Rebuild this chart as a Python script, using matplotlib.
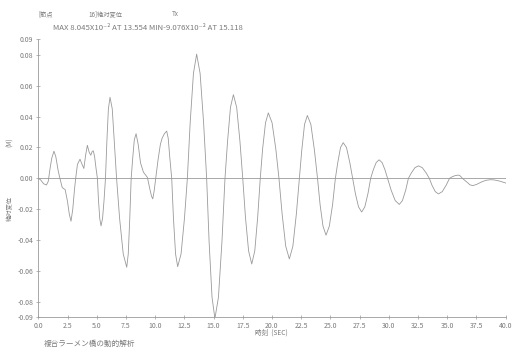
import numpy as np
import matplotlib
matplotlib.use("Agg")
from matplotlib import pyplot as plt

plt.rcParams['font.family'] = ['Noto Sans CJK JP', 'DejaVu Sans']

# time history of nodal displacement (sec, m)
time_sec = [0.0, 0.2, 0.45, 0.7, 0.85, 1.0, 1.15, 1.34, 1.5, 1.7, 1.85, 2.05, 2.3, 2.5,
            2.65, 2.8, 2.95, 3.1, 3.2, 3.35, 3.57, 3.75, 3.9, 4.05, 4.2, 4.35, 4.49,
            4.62, 4.71, 4.82, 4.95, 5.06, 5.15, 5.26, 5.37, 5.5, 5.63, 5.75, 5.87,
            6.0, 6.14, 6.33, 6.5, 6.7, 6.96, 7.27, 7.57, 7.7, 7.83, 7.95, 8.08, 8.22,
            8.37, 8.55, 8.75, 9.0, 9.2, 9.34, 9.55, 9.7, 9.8, 9.92, 10.05, 10.25,
            10.45, 10.6, 10.8, 10.99, 11.12, 11.25, 11.42, 11.57, 11.75, 11.93, 12.22,
            12.51, 12.76, 13.0, 13.28, 13.554, 13.85, 14.15, 14.41, 14.62, 14.87,
            15.118, 15.42, 15.72, 15.98, 16.2, 16.45, 16.7, 16.98, 17.26, 17.5, 17.73,
            18.0, 18.27, 18.53, 18.78, 19.0, 19.2, 19.45, 19.69, 20.01, 20.33, 20.6,
            20.87, 21.18, 21.49, 21.79, 22.09, 22.35, 22.55, 22.79, 23.03, 23.33,
            23.64, 23.9, 24.12, 24.37, 24.63, 24.91, 25.19, 25.43, 25.63, 25.87, 26.1,
            26.38, 26.67, 26.91, 27.14, 27.41, 27.68, 27.95, 28.22, 28.45, 28.67,
            28.92, 29.17, 29.43, 29.68, 29.9, 30.2, 30.55, 30.9, 31.17, 31.45, 31.68,
            31.94, 32.24, 32.54, 32.87, 33.19, 33.47, 33.7, 33.98, 34.25, 34.58,
            34.91, 35.2, 35.45, 35.7, 35.96, 36.08, 36.2, 36.3, 36.7, 36.95, 37.19,
            37.5, 37.9, 38.3, 38.67, 39.0, 39.5, 40.0]
disp = [0.0, -0.001, -0.0035, -0.0043, -0.002, 0.006, 0.013, 0.0176, 0.014, 0.005, 0.0,
        -0.006, -0.0073, -0.015, -0.023, -0.0278, -0.02, -0.007, 0.0, 0.009, 0.0124,
        0.009, 0.0064, 0.015, 0.0214, 0.017, 0.015, 0.0175, 0.0178, 0.014, 0.006, 0.0,
        -0.014, -0.026, -0.0308, -0.026, -0.014, 0.0, 0.024, 0.045, 0.0525, 0.045,
        0.024, 0.0, -0.026, -0.049, -0.0576, -0.049, -0.026, 0.0, 0.013, 0.025, 0.0289,
        0.022, 0.010, 0.004, 0.002, 0.0006, -0.007, -0.0118, -0.0133, -0.008, 0.0,
        0.012, 0.022, 0.026, 0.029, 0.0306, 0.026, 0.014, 0.0, -0.026, -0.049, -0.0572,
        -0.049, -0.026, 0.0, 0.036, 0.068, 0.08045, 0.068, 0.036, 0.0, -0.041, -0.077,
        -0.09076, -0.077, -0.041, 0.0, 0.024, 0.046, 0.0542, 0.046, 0.024, 0.0, -0.025,
        -0.047, -0.0555, -0.047, -0.025, 0.0, 0.019, 0.036, 0.0424, 0.036, 0.019, 0.0,
        -0.023, -0.044, -0.0522, -0.044, -0.023, 0.0, 0.018, 0.035, 0.0407, 0.035,
        0.018, 0.0, -0.017, -0.031, -0.0368, -0.031, -0.017, 0.0, 0.010, 0.020, 0.0231,
        0.020, 0.010, 0.0, -0.0098, -0.0185, -0.0218, -0.0185, -0.0098, 0.0, 0.0054,
        0.0102, 0.012, 0.0102, 0.0054, 0.0, -0.0076, -0.0144, -0.0169, -0.0144,
        -0.0076, 0.0, 0.0036, 0.0069, 0.0081, 0.0069, 0.0036, 0.0, -0.0045, -0.0086,
        -0.0101, -0.0086, -0.0045, 0.0, 0.0011, 0.0018, 0.0021, 0.0018, 0.0009, 0.0,
        -0.0025, -0.0042, -0.0047, -0.004, -0.0025, -0.0013, -0.0009, -0.001, -0.0018,
        -0.003]

x_ticks = [0.0, 2.5, 5.0, 7.5, 10.0, 12.5, 15.0, 17.5, 20.0, 22.5, 25.0, 27.5, 30.0,
           32.5, 35.0, 37.5, 40.0]
y_ticks = [0.09, 0.08, 0.06, 0.04, 0.02, 0.0, -0.02, -0.04, -0.06, -0.08, -0.09]

ink = '#9a9a9a'
txt = '#7a7a7a'

fig = plt.figure(figsize=(5.12, 3.58), dpi=100)
ax = fig.add_axes([0.0748, 0.1137, 0.9127, 0.7763])

ax.plot(time_sec, disp, color=ink, lw=0.6)
ax.axhline(0.0, color=ink, lw=0.6)

ax.set_xlim(0, 40)
ax.set_ylim(-0.09, 0.09)
ax.set_xticks(x_ticks)
ax.set_xticklabels(['%.1f' % v for v in x_ticks])
ax.set_yticks(y_ticks)
ax.set_yticklabels(['%.2f' % v for v in y_ticks])

for s in ['top', 'right']:
    ax.spines[s].set_visible(False)
for s in ['left', 'bottom']:
    ax.spines[s].set_color(ink)
    ax.spines[s].set_linewidth(0.6)
ax.tick_params(direction='inout', length=3, width=0.5, colors=ink,
               labelcolor=txt, labelsize=5, pad=2)

# header
fig.text(38 / 512, 1 - 14 / 358, '[節点', fontsize=4.5, color=txt, va='center')
fig.text(88 / 512, 1 - 14 / 358, '16]絶対変位', fontsize=4.5, color=txt, va='center')
fig.text(172 / 512, 1 - 14 / 358, 'Tx', fontsize=4.5, color=txt, va='center')
fig.text(53 / 512, 1 - 28 / 358,
         'MAX 8.045X10⁻² AT 13.554 MIN-9.076X10⁻² AT 15.118',
         fontsize=5.6, color=txt, va='center')

# axis titles
fig.text(10 / 512, 1 - 142 / 358, '(M)', fontsize=4.5, color=txt, rotation=90,
         va='center', ha='center')
fig.text(10 / 512, 1 - 208 / 358, '絶対変位', fontsize=4.5, color=txt, rotation=90,
         va='center', ha='center')
fig.text(255 / 512, 1 - 333 / 358, '時刻  (SEC)', fontsize=4.8, color=txt, va='center')

fig.text(44 / 512, 1 - 344 / 358, '複合ラーメン橋の動的解析', fontsize=5.5, color=txt,
         va='center')

fig.savefig('out.png', dpi=100)
